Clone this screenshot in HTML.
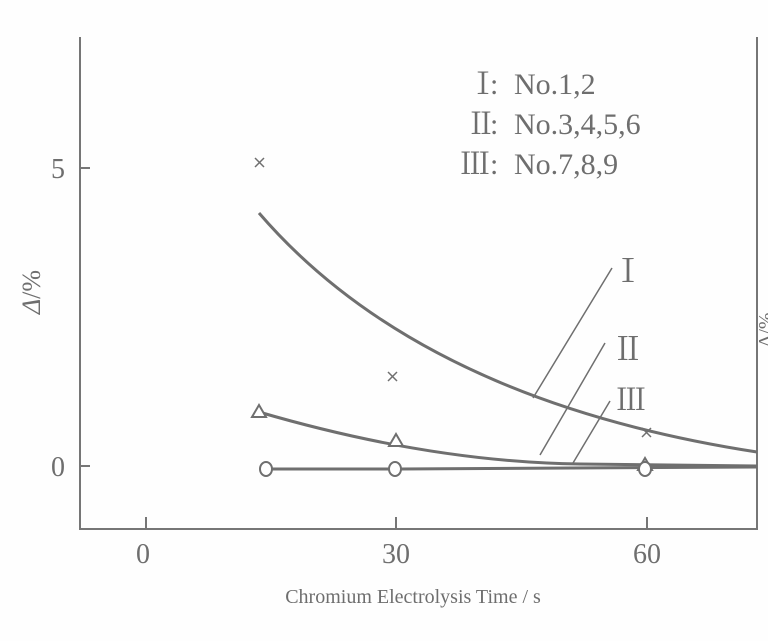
<!DOCTYPE html>
<html><head><meta charset="utf-8"><style>
html,body{margin:0;padding:0;background:#fff;}
svg{display:block}
text{font-family:"Liberation Serif","Noto Serif CJK SC",serif;fill:#6e6e6e}
</style></head><body>
<svg width="768" height="641" viewBox="0 0 768 641">
<rect width="768" height="641" fill="#fefefe"/>
<g stroke="#767676" fill="none" stroke-width="2">
<path d="M80 37 V529 H757 V37"/>
<path d="M146 529 v-12 M396 529 v-12 M647 529 v-12 M80 168 h10 M80 466 h10"/>
</g>
<g stroke="#6f6f6f" fill="none" stroke-width="3">
<path d="M259 213 Q420 400 757 452"/>
<path d="M259 412 Q430 462 580 464 L757 466"/>
<path d="M266 469 L400 469 L757 467"/>
</g>
<g stroke="#6f6f6f" fill="none" stroke-width="1.5">
<path d="M533 398 L612 268 M540 455 L605 343 M573 463 L610 401"/>
<path d="M255 158 l9 9 M264 158 l-9 9 M388 372 l9 9 M397 372 l-9 9 M642 428 l9 9 M651 428 l-9 9"/>
</g>
<g stroke="#6f6f6f" fill="#fff" stroke-width="2">
<path d="M259 405 l7 12 h-14 z M396 434 l7 12 h-14 z M645 458 l7 12 h-14 z"/>
<ellipse cx="266" cy="469" rx="6" ry="7"/>
<ellipse cx="395" cy="469" rx="6" ry="7"/>
<ellipse cx="645" cy="469" rx="6" ry="7"/>
</g>
<g font-size="28">
<text x="143" y="563" text-anchor="middle">0</text>
<text x="396" y="563" text-anchor="middle">30</text>
<text x="647" y="563" text-anchor="middle">60</text>
<text x="65" y="178" text-anchor="end">5</text>
<text x="65" y="476" text-anchor="end">0</text>
<text transform="translate(40 292) rotate(-90)" text-anchor="middle" font-size="26"><tspan font-style="italic">Δ</tspan>/%</text>
<text transform="translate(772 330) rotate(-90)" text-anchor="middle" font-size="20">Δ/%</text>
<text x="612" y="282" font-size="32">Ⅰ</text>
<text x="612" y="360" font-size="32">Ⅱ</text>
<text x="616" y="410" font-size="30">Ⅲ</text>
</g>
<g font-size="30">
<text x="468" y="94">Ⅰ</text><text x="490" y="94">:</text><text x="514" y="94">No.1,2</text>
<text x="466" y="134">Ⅱ</text><text x="490" y="134">:</text><text x="514" y="134">No.3,4,5,6</text>
<text x="460" y="174">Ⅲ</text><text x="490" y="174">:</text><text x="514" y="174">No.7,8,9</text>
</g>
<text x="413" y="603" text-anchor="middle" font-size="20" style="font-family:'Liberation Sans Narrow','Liberation Serif',serif">Chromium Electrolysis Time / s</text>
</svg>
</body></html>
